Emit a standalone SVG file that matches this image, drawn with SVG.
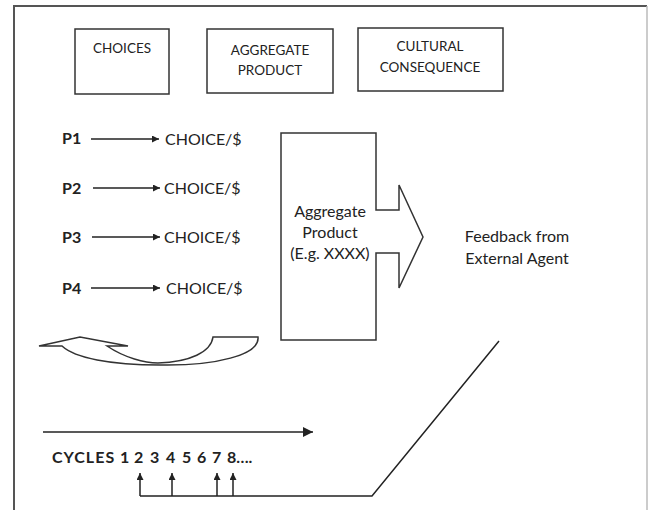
<svg xmlns="http://www.w3.org/2000/svg" width="649" height="510" viewBox="0 0 649 510">
<style>
  .box { fill: #fff; stroke: #333; stroke-width: 1.5; }
  .hdr { font-family: Lato, "Liberation Sans", sans-serif; font-size: 13.5px; fill: #222; text-anchor: middle; }
  .txt { font-family: Lato, "Liberation Sans", sans-serif; font-size: 16px; fill: #222; }
  .bold { font-weight: bold; }
  .ln { stroke: #222; stroke-width: 1.5; fill: none; }
  .shape { fill: #fff; stroke: #333; stroke-width: 1.5; stroke-linejoin: miter; }
</style>
<defs>
  <marker id="ah" viewBox="0 0 10 10" refX="10" refY="5" markerWidth="9" markerHeight="7" markerUnits="userSpaceOnUse" orient="auto">
    <path d="M0,0 L10,5 L0,10 z" fill="#222"/>
  </marker>
  <marker id="ahBig" viewBox="0 0 10 10" refX="10" refY="5" markerWidth="11" markerHeight="10" markerUnits="userSpaceOnUse" orient="auto">
    <path d="M0,0 L10,5 L0,10 z" fill="#222"/>
  </marker>
</defs>
<rect x="0" y="0" width="649" height="510" fill="#fff"/>
<g id="frame">
  <path d="M14,510 L14,6 L647,6" fill="none" stroke="#555" stroke-width="2"/>
  <line x1="647" y1="6" x2="647" y2="510" stroke="#bbb" stroke-width="1.5"/>
</g>
<g id="hdr-choices">
  <rect class="box" x="75" y="29" width="94" height="65"/>
  <text class="hdr" x="122" y="53">CHOICES</text>
</g>
<g id="hdr-aggregate">
  <rect class="box" x="207" y="29" width="126" height="64"/>
  <text class="hdr" x="270" y="55">AGGREGATE</text>
  <text class="hdr" x="270" y="75">PRODUCT</text>
</g>
<g id="hdr-cultural">
  <rect class="box" x="358" y="28" width="145" height="63"/>
  <text class="hdr" x="430" y="51">CULTURAL</text>
  <text class="hdr" x="430" y="72">CONSEQUENCE</text>
</g>
<g id="persons">
  <text class="txt bold" x="62" y="144" font-size="15">P1</text>
  <text class="txt bold" x="62" y="194" font-size="15">P2</text>
  <text class="txt bold" x="62" y="243" font-size="15">P3</text>
  <text class="txt bold" x="62" y="294" font-size="15">P4</text>
</g>
<g id="choices">
  <text class="txt" x="165" y="145">CHOICE/$</text>
  <text class="txt" x="164" y="194">CHOICE/$</text>
  <text class="txt" x="164" y="243">CHOICE/$</text>
  <text class="txt" x="166" y="294">CHOICE/$</text>
</g>
<g id="aggregate-product">
  <polygon class="shape" points="281,133 376,133 376,210 399,210 399,185 423,237 399,288 399,253 376,253 376,340 281,340"/>
  <text class="txt" x="330" y="217" text-anchor="middle">Aggregate</text>
  <text class="txt" x="330" y="238" text-anchor="middle">Product</text>
  <text class="txt" x="330" y="259" text-anchor="middle">(E.g. XXXX)</text>
</g>
<g id="feedback">
  <text class="txt" x="517" y="242" text-anchor="middle">Feedback from</text>
  <text class="txt" x="517" y="264" text-anchor="middle">External Agent</text>
</g>
<g id="loop-arrow">
  <path class="shape" d="M39,346 L80,337 L128,346 L107,346 C125,358 145,363 158,363 C190,362 211,352 213,337 L258,337 C260,355 215,366 160,365 C110,365 75,358 62,346 Z"/>
</g>
<g id="cycles">
  <text class="txt bold" y="463" font-size="18"><tspan x="52" letter-spacing="1">CYCLES</tspan><tspan x="120">1</tspan><tspan x="134">2</tspan><tspan x="150">3</tspan><tspan x="166">4</tspan><tspan x="182">5</tspan><tspan x="197">6</tspan><tspan x="212">7</tspan><tspan x="227">8….</tspan></text>
</g>
<g id="connectors">
  <line class="ln" x1="91" y1="139" x2="159" y2="139" marker-end="url(#ah)"/>
  <line class="ln" x1="93" y1="188" x2="160" y2="188" marker-end="url(#ah)"/>
  <line class="ln" x1="92" y1="237" x2="160" y2="237" marker-end="url(#ah)"/>
  <line class="ln" x1="91" y1="288" x2="160" y2="288" marker-end="url(#ah)"/>
  <line class="ln" x1="43" y1="432" x2="313" y2="432" stroke-width="2.4" marker-end="url(#ahBig)"/>
  <polyline class="ln" points="499,341 372,496 140,496"/>
  <line class="ln" x1="140" y1="496" x2="140" y2="473" marker-end="url(#ah)"/>
  <line class="ln" x1="172" y1="496" x2="172" y2="473" marker-end="url(#ah)"/>
  <line class="ln" x1="217" y1="496" x2="217" y2="473" marker-end="url(#ah)"/>
  <line class="ln" x1="233" y1="496" x2="233" y2="473" marker-end="url(#ah)"/>
</g>
</svg>
